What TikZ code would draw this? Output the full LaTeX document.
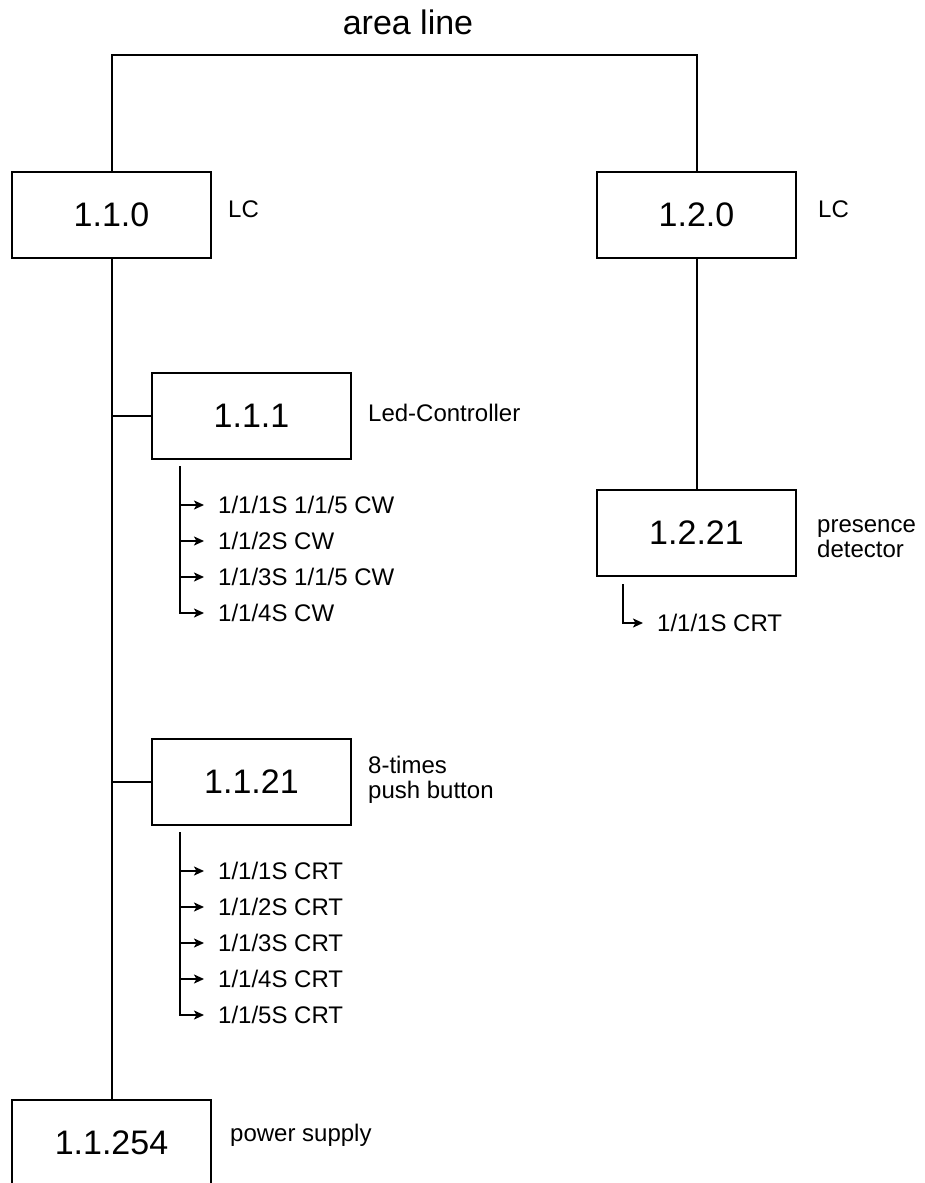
\documentclass[tikz,border=0pt]{standalone}
\usepackage{fontspec}
\setmainfont{Liberation Sans}
\usetikzlibrary{arrows.meta}
\tikzset{
  unit/.style={draw, line width=2pt, minimum width=199pt, minimum height=86pt, inner sep=0pt, font=\fontsize{34}{40}\selectfont},
  note/.style={anchor=west, inner sep=0pt, align=left, font=\fontsize{24}{25}\selectfont},
  addr/.style={anchor=west, inner xsep=14pt, inner ysep=0pt, font=\fontsize{24}{28}\selectfont},
  wire/.style={line width=2pt},
  tap/.style={line width=2pt, -{Stealth[length=10pt,width=9pt,inset=2.5pt]}}
}
\begin{document}
\begin{tikzpicture}[x=1pt,y=-1pt]
            \useasboundingbox (0,0) rectangle (924,1183);
            \node[font=\fontsize{34}{40}\selectfont] (area) at (408,22) {area line};
            \coordinate (bus) at (408,55);
            \node[unit] (n110) at (111.5,215) {1.1.0};
            \node[note] (l110) at (228,209) {LC};
            \node[unit] (n120) at (696.5,215) {1.2.0};
            \node[note] (l120) at (818,209) {LC};
            \node[unit] (n111) at (251.5,416) {1.1.1};
            \node[note] (l111) at (368,413) {Led-Controller};
            \node[unit] (n1121) at (251.5,782) {1.1.21};
            \node[note] (l1121) at (368,780) {8-times\\push button};
            \node[unit] (n1254) at (111.5,1143) {1.1.254};
            \node[note] (l1254) at (230,1135) {power supply};
            \node[unit] (n1221) at (696.5,533) {1.2.21};
            \node[note] (l1221) at (817,539) {presence\\detector};
            \draw[wire] (n110.north) -- (n110.north |- bus) -- (n120.north |- bus) -- (n120.north);
            \draw[wire] (n110.south) -- (n1254.north);
            \draw[wire] (n110.south |- n111.west) -- (n111.west);
            \draw[wire] (n110.south |- n1121.west) -- (n1121.west);
            \draw[wire] (n120.south) -- (n1221.north);
            \coordinate (s111) at (180,466);
            \foreach \t [count=\i] in {{1/1/1S 1/1/5 CW},{1/1/2S CW},{1/1/3S 1/1/5 CW},{1/1/4S CW}}
                \node[addr] (a111-\i) at (204,469+36*\i) {\t};
            \foreach \i in {1,2,3}
                \draw[tap] (s111 |- a111-\i.west) -- (a111-\i.west);
            \draw[tap] (s111) |- (a111-4.west);
            \coordinate (s1121) at (180,832);
            \foreach \i in {1,...,5}
                \node[addr] (a1121-\i) at (204,835+36*\i) {1/1/\i S CRT};
            \foreach \i in {1,...,4}
                \draw[tap] (s1121 |- a1121-\i.west) -- (a1121-\i.west);
            \draw[tap] (s1121) |- (a1121-5.west);
            \coordinate (s1221) at (623,584);
            \node[addr] (a1221) at (643,623) {1/1/1S CRT};
            \draw[tap] (s1221) |- (a1221.west);
        \end{tikzpicture}
\end{document}
